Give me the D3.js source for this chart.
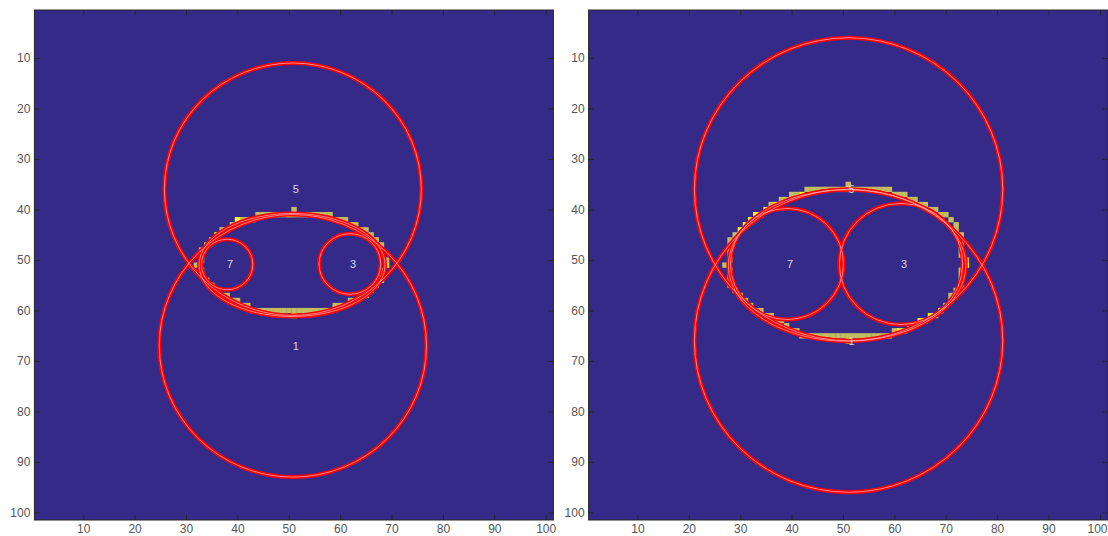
<!DOCTYPE html>
<html>
<head>
<meta charset="utf-8">
<script src="https://cdn.jsdelivr.net/npm/d3@7"></script>
<style>
  html, body { margin: 0; padding: 0; background: #ffffff; }
  svg { display: block; }
</style>
</head>
<body>
<svg id="chart" width="1108" height="536"></svg>
<script>
// ---------------- data ----------------
const tickValues = [10, 20, 30, 40, 50, 60, 70, 80, 90, 100];
const gridDomain = [0.5, 101.5];

// Left panel: boundary rows of the detected region [row, leftCol, rightCol]
const leftRows   = [41,42,43,44,45,46,47,48,49,50,51,52,53,54,55,56,57,58,59,60];
const leftLCol   = [44,41,39,37,36,35,34,33,33,33,32,33,33,34,35,36,37,39,41,43];
const leftRCol   = [58,61,63,65,66,67,68,68,68,69,69,68,68,68,67,66,65,63,61,58];
const leftBumps  = [[40,51],[61,51]];
const leftYellow = [[42,40],[45,36],[46,35],[41,50],[51,69],[54,68],[57,65],[58,63],[61,51]];

// Right panel
const rightRows   = [36,37,38,39,40,41,42,43,44,45,46,47,48,49,50,51,52,53,54,55,56,57,58,59,60,61,62,63,64,65];
const rightLCol   = [43,40,38,36,35,33,32,31,30,29,28,28,28,28,28,27,28,28,28,28,29,30,31,32,33,35,37,39,40,42];
const rightRCol   = [59,62,64,66,68,70,71,72,72,73,73,73,73,73,74,74,73,73,73,73,72,71,71,70,69,68,66,64,62,59];
const rightBumps  = [[35,51],[66,51]];
const rightYellow = [[36,51],[37,42],[39,37],[40,35],[41,33],[42,32],[43,31],[44,30],[51,74],[55,73],[60,69],[61,67],[62,65],[64,61],[66,51]];

// Circles: [label, cx, cy, r]
const leftCircles  = [["5",50.8,36,25],["1",50.8,67,26],["7",38,50.9,5],["3",61.9,50.8,6]];
const rightCircles = [["5",51.1,36,30],["1",51.1,66,30],["7",39.1,50.8,11],["3",61.3,50.8,12]];
// Fitted ellipses: [cx, cy, a, b]
const leftEllipse  = [50.65, 51, 18.1, 10.2];
const rightEllipse = [50.8, 51.1, 23.1, 15];

// ---------------- drawing ----------------
const svg = d3.select("#chart");
const BG = "#352a87", OLIVE = "#c3bd62", YELLOW = "#f8f80f";

function panel(x0, rows, lc, rc, bumps, yellow, circles, ell) {
  const W = 519, top = 10, H = 510;
  const x = d3.scaleLinear().domain(gridDomain).range([x0, x0 + W]);
  const y = d3.scaleLinear().domain(gridDomain).range([top, top + H]);
  const g = svg.append("g");

  g.append("rect").attr("x", x(0.5)).attr("y", y(0.5))
    .attr("width", x(101.5) - x(0.5)).attr("height", y(101.5) - y(0.5)).attr("fill", BG);

  // boundary pixels (staircase between successive rows)
  const n = rows.length, mid = (rows[0] + rows[n - 1]) / 2;
  const pix = [];
  rows.forEach((r, i) => {
    if (i === 0 || i === n - 1) {
      for (let c = lc[i]; c <= rc[i]; c++) pix.push([r, c]);
      return;
    }
    const j = r < mid ? i - 1 : i + 1;
    const le = Math.max(lc[i], lc[j] - 1);
    for (let c = lc[i]; c <= le; c++) pix.push([r, c]);
    const rs = Math.min(rc[i], rc[j] + 1);
    for (let c = rs; c <= rc[i]; c++) pix.push([r, c]);
  });
  bumps.forEach(b => pix.push(b));
  const ykey = new Set(yellow.map(d => d[0] + "_" + d[1]));
  yellow.forEach(d => { if (!pix.some(p => p[0] === d[0] && p[1] === d[1])) pix.push(d); });

  g.selectAll("rect.px").data(pix).join("rect").attr("class", "px")
    .attr("x", d => x(d[1] - 0.5)).attr("y", d => y(d[0] - 0.5))
    .attr("width", d => x(d[1] + 0.5) - x(d[1] - 0.5) + 0.3)
    .attr("height", d => y(d[0] + 0.5) - y(d[0] - 0.5) + 0.3)
    .attr("fill", d => ykey.has(d[0] + "_" + d[1]) ? YELLOW : OLIVE);

  const clip = "clip" + x0;
  svg.append("clipPath").attr("id", clip).append("rect")
    .attr("x", x(0.5)).attr("y", y(0.5)).attr("width", W).attr("height", H);
  const cg = g.append("g").attr("clip-path", `url(#${clip})`);

  const shapes = circles.map(c => ({cx: c[1], cy: c[2], rx: c[3], ry: c[3]}));
  shapes.push({cx: ell[0], cy: ell[1], rx: ell[2], ry: ell[3]});
  const kx = x(1) - x(0), ky = y(1) - y(0);
  [["#ff0000", 4.0, 1], ["#ffd0d0", 0.9, 0.7]].forEach(([col, w, op]) => {
    cg.selectAll(null).data(shapes).join("ellipse")
      .attr("cx", d => x(d.cx)).attr("cy", d => y(d.cy))
      .attr("rx", d => d.rx * kx).attr("ry", d => d.ry * ky)
      .attr("fill", "none").attr("stroke", col).attr("stroke-width", w).attr("stroke-opacity", op);
  });

  g.selectAll("text.lbl").data(circles).join("text").attr("class", "lbl")
    .attr("x", d => x(d[1])).attr("y", d => y(d[2]))
    .attr("dy", "0.35em").attr("text-anchor", "start")
    .attr("font-family", "Liberation Sans, Arial, sans-serif").attr("font-size", 11)
    .attr("fill", "#d6d6f0").text(d => d[0]);

  // axes
  const fmt = d3.format("d");
  const style = sel => {
    sel.select(".domain").remove();
    sel.selectAll(".tick line").attr("stroke", "#262626");
    sel.selectAll(".tick text").attr("fill", "#555555")
      .attr("font-family", "Liberation Sans, Arial, sans-serif").attr("font-size", 12);
  };
  const bx = g.append("g").attr("transform", `translate(0,${y(101.5)})`)
    .call(d3.axisBottom(x).tickValues(tickValues).tickFormat(fmt).tickSizeInner(-5).tickSizeOuter(0).tickPadding(4)).call(style);
  // keep the last label inside the page
  bx.selectAll(".tick text").each(function(d) {
    const right = x(d) + this.getComputedTextLength() / 2;
    if (right > 1107) d3.select(this).attr("dx", (1107 - right) + "px");
  });
  g.append("g").attr("transform", `translate(${x(0.5)},0)`)
    .call(d3.axisLeft(y).tickValues(tickValues).tickFormat(fmt).tickSizeInner(-5).tickSizeOuter(0).tickPadding(4)).call(style);
  g.append("g").attr("transform", `translate(0,${y(0.5)})`)
    .call(d3.axisTop(x).tickValues(tickValues).tickFormat("").tickSizeInner(-5).tickSizeOuter(0)).call(style);
  g.append("g").attr("transform", `translate(${x(101.5)},0)`)
    .call(d3.axisRight(y).tickValues(tickValues).tickFormat("").tickSizeInner(-5).tickSizeOuter(0)).call(style);

  g.append("rect").attr("x", x(0.5)).attr("y", y(0.5)).attr("width", W).attr("height", H)
    .attr("fill", "none").attr("stroke", "#262626").attr("stroke-width", 1);
}

panel(34.4, leftRows, leftLCol, leftRCol, leftBumps, leftYellow, leftCircles, leftEllipse);
panel(588.6, rightRows, rightLCol, rightRCol, rightBumps, rightYellow, rightCircles, rightEllipse);
</script>
</body>
</html>
